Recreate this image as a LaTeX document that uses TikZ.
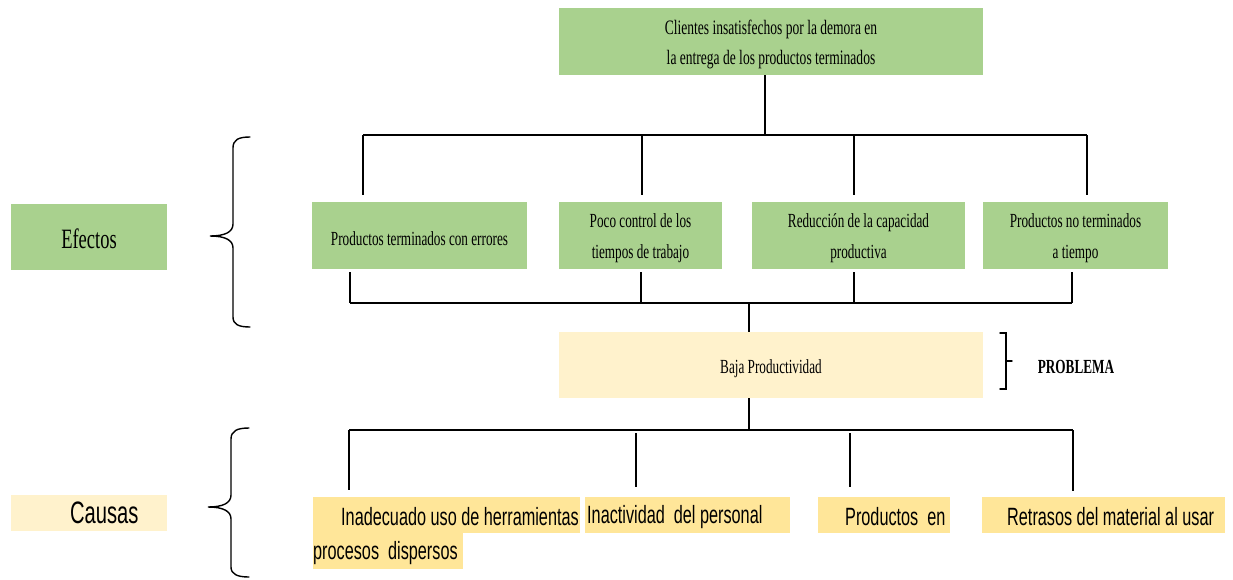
\documentclass[tikz,border=0pt]{standalone}
\usepackage{fontspec}
\usepackage{tikz}
\newfontfamily\diagserif[FakeStretch=0.66]{Liberation Serif}
\newfontfamily\diagsans[FakeStretch=0.65]{Liberation Sans}
\definecolor{efectoverde}{HTML}{A9D18E}
\definecolor{problemacrema}{HTML}{FFF2CC}
\definecolor{causaamarilla}{HTML}{FFE699}
% baja el texto sin cambiar el alto de la caja
\newcommand{\bajo}[2][3pt]{\raisebox{-#1}[\height][\depth]{#2}}

\tikzset{
    efbox/.style={fill=efectoverde, inner sep=0pt, align=center,
        font=\diagserif\fontsize{20}{31}\selectfont, minimum height=67pt},
    causabox/.style={fill=causaamarilla, inner sep=0pt, anchor=west,
        minimum height=36pt, font=\diagsans\fontsize{25}{30}\selectfont},
    rama/.style={line width=1.6pt},
    llave/.style={line width=1.4pt, line cap=round}
}

\begin{document}
\begin{tikzpicture}[x=1pt,y=-1pt]

            \useasboundingbox (0,0) rectangle (1233,579);

            % efectos
            \node[efbox, minimum width=424pt, font=\diagserif\fontsize{20.5}{30}\selectfont] (top) at (771,41.5)
                {\bajo{Clientes insatisfechos por la demora en}\\\bajo{la entrega de los productos terminados}};
            \node[efbox, minimum width=215pt] (e1) at (419.5,235.5) {\bajo{Productos\ terminados\ con\ errores}};
            \node[efbox, minimum width=163pt] (e2) at (640.5,235.5) {\bajo{Poco control de los}\\\bajo{tiempos\ de\ trabajo}};
            \node[efbox, minimum width=213pt] (e3) at (858.5,235.5) {\bajo{Reducción de la capacidad}\\\bajo{productiva}};
            \node[efbox, minimum width=185pt] (e4) at (1075.5,235.5) {\bajo{Productos\ no\ terminados}\\\bajo{a tiempo}};
            \node[efbox, minimum width=156pt, minimum height=66pt,
                font=\diagserif\fontsize{28}{30}\selectfont] (efectos) at (89,237) {\bajo[2pt]{Efectos}};

            % problema
            \node[efbox, fill=problemacrema, minimum width=424pt, minimum height=66pt] (prob) at (771,365)
                {\bajo[4pt]{Baja Productividad}};
            \node[font=\diagserif\bfseries\fontsize{20}{24}\selectfont, inner sep=0pt] (problema) at (1076,367) {PROBLEMA};

            % causas
            \node[causabox] (c1) at (313,515) {\bajo[2pt]{\makebox[267pt][l]{\hspace{28pt}Inadecuado uso de herramientas}}};
            \node[causabox, anchor=north west] (c1b) at (c1.south west) {\bajo[2pt]{\makebox[150pt][l]{procesos\ \ dispersos}}};
            \node[causabox] (c2) at (585,515) {\bajo[2pt]{\makebox[205pt][l]{\hspace{2pt}Inactividad\ \ del personal}}};
            \node[causabox] (c3) at (818,515) {\bajo[2pt]{\makebox[132pt][l]{\hspace{27pt}Productos\ \ en}}};
            \node[causabox] (c4) at (982,515) {\bajo[2pt]{\makebox[243pt][l]{\hspace{25pt}Retrasos\ del material al usar}}};
            \node[causabox, fill=problemacrema, font=\diagsans\fontsize{31}{30}\selectfont] (causas) at (11,513)
                {\makebox[156pt][l]{\hspace{59pt}Causas}};

            \coordinate (busE) at (0,135);
            \coordinate (busP) at (0,303);
            \coordinate (busC) at (0,430);

            \draw[rama] ([xshift=-6pt]top.south) -- ([xshift=-6pt]top.south |- busE);
            \draw[rama] ([xshift=-56.5pt]e1.north |- busE) -- ([xshift=11.5pt]e4.north |- busE);
            \foreach \n/\dx in {e1/-56.5, e2/1.5, e3/-4.5, e4/11.5}
                \draw[rama] ([xshift=\dx pt, yshift=7pt]\n.north) -- ([xshift=\dx pt]\n.north |- busE);

            \foreach \n/\dx in {e1/-69.5, e2/0.5, e3/-4.5, e4/-3.5}
                \draw[rama] ([xshift=\dx pt, yshift=-3pt]\n.south) -- ([xshift=\dx pt]\n.south |- busP);
            \draw[rama] ([xshift=-69.5pt]e1.south |- busP) -- ([xshift=-3.5pt]e4.south |- busP);
            \draw[rama] ([xshift=-22pt]prob.north |- busP) -- ([xshift=-22pt]prob.north);

            \draw[rama] ([xshift=-22pt]prob.south) -- ([xshift=-22pt]prob.south |- busC);
            \draw[rama] ([xshift=36pt]c1.north west |- busC) -- ([xshift=91pt]c4.north west |- busC);
            \draw[rama] ([xshift=36pt]c1.north west |- busC) -- ([xshift=36pt, yshift=7pt]c1.north west);
            \draw[rama] ([xshift=51pt, yshift=-3pt]c2.north west |- busC) -- ([xshift=51pt, yshift=10pt]c2.north west);
            \draw[rama] ([xshift=32pt, yshift=-3pt]c3.north west |- busC) -- ([xshift=32pt, yshift=10pt]c3.north west);
            \draw[rama] ([xshift=91pt]c4.north west |- busC) -- ([xshift=91pt, yshift=6pt]c4.north west);

            % llaves
            \draw[llave] (250,137) .. controls (238,137) and (233,140) .. (233,148) -- (233,224)
                .. controls (233,232) and (225,236) .. (210,236) .. controls (225,236) and (233,240) .. (233,248)
                -- (233,317) .. controls (233,324) and (238,327) .. (250,327);
            \draw[llave] (249,428) .. controls (237,428) and (231,431) .. (231,439) -- (231,495)
                .. controls (231,503) and (223,507) .. (208,507) .. controls (223,507) and (231,511) .. (231,519)
                -- (231,567) .. controls (231,574) and (237,577) .. (249,577);
            \draw[llave] (1000,333) -- (1006,333) -- (1006,389) -- (1000,389);
            \draw[llave] (1006,361) -- (1012,361);

\end{tikzpicture}
\end{document}
